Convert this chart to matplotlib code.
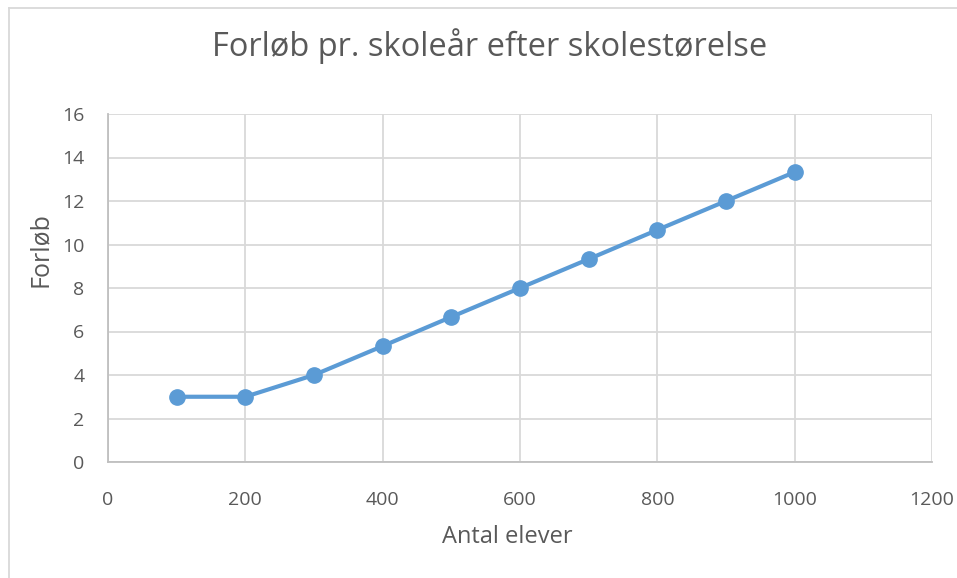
import matplotlib
matplotlib.use("Agg")
import matplotlib.pyplot as plt
from matplotlib.lines import Line2D

x_vals = [100, 200, 300, 400, 500, 600, 700, 800, 900, 1000]
y_vals = [3, 3, 4, 5.33, 6.67, 8, 9.33, 10.67, 12, 13.33]
x_ticks = [0, 200, 400, 600, 800, 1000, 1200]
y_ticks = [0, 2, 4, 6, 8, 10, 12, 14, 16]

plt.rcParams['font.family'] = ['Open Sans', 'DejaVu Sans']
W, H = 957, 578
fig = plt.figure(figsize=(W/100, H/100), dpi=100)
L, R, T, B = 108, 932, 114, 462
ax = fig.add_axes([L/W, 1-B/H, (R-L)/W, (B-T)/H])

line_color = '#5b9bd5'
ax.plot(x_vals, y_vals, color=line_color, lw=3, marker='o', ms=11, zorder=3)
ax.set_xlim(0, 1200)
ax.set_ylim(0, 16)
ax.set_xticks(x_ticks)
ax.set_yticks(y_ticks)
ax.grid(True, color='#d9d9d9', lw=1.3)
ax.set_axisbelow(True)
for s in ['top', 'right']:
    ax.spines[s].set_visible(False)
for s in ['left', 'bottom']:
    ax.spines[s].set_color('#bfbfbf')
    ax.spines[s].set_linewidth(1.3)
ax.tick_params(length=0, labelsize=14, colors='#595959')
ax.tick_params(axis='y', pad=17)
ax.tick_params(axis='x', pad=21)
ax.set_xlabel('Antal elever', fontsize=17, color='#595959', va='center')
ax.set_ylabel('Forløb', fontsize=18, color='#595959', va='center')
ax.xaxis.set_label_coords((507.5-L)/(R-L), (B-537)/(B-T))
ax.yaxis.set_label_coords((40-L)/(R-L), (B-250)/(B-T))
fig.text(490/W, 1-46/H, 'Forløb pr. skoleår efter skolestørelse', fontsize=23.5,
         color='#595959', ha='center', va='center')

# outer chart frame (left and top edges visible)
fig.add_artist(Line2D([9/W, 9/W], [0, 1-8/H], transform=fig.transFigure, color='#d9d9d9', lw=1.3))
fig.add_artist(Line2D([9/W, 1], [1-8/H, 1-8/H], transform=fig.transFigure, color='#d9d9d9', lw=1.3))

fig.savefig('out.png', dpi=100)
